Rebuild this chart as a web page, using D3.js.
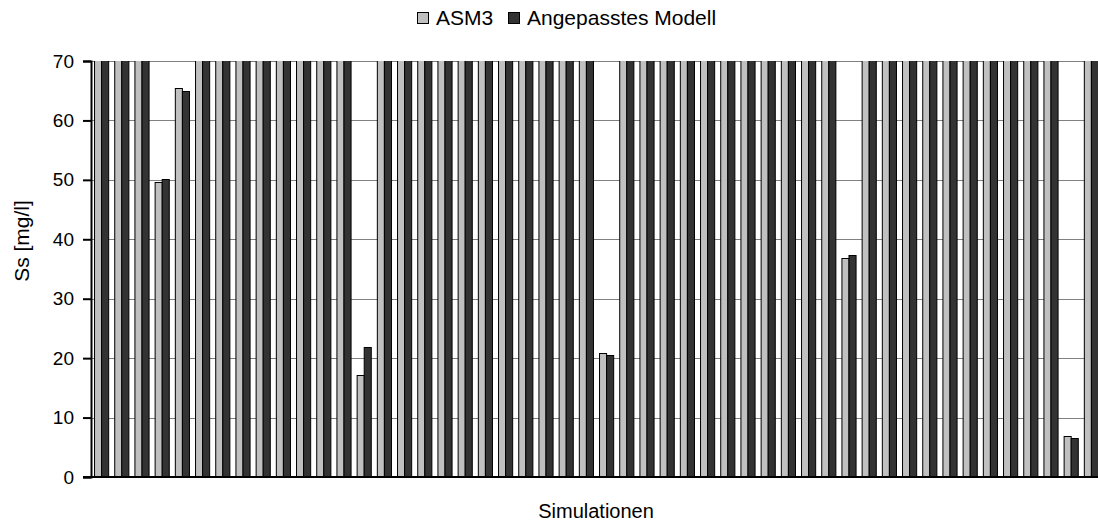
<!DOCTYPE html>
<html>
<head>
<meta charset="utf-8">
<script src="https://cdn.jsdelivr.net/npm/d3@7"></script>
<style>
  body { margin: 0; background: #fff; }
  text { font-family: "Liberation Sans", Arial, sans-serif; fill: #000; }
</style>
</head>
<body>
<svg id="chart" width="1098" height="524"></svg>
<script>
// 50 simulation runs; values above 70 run off the top of the axis
const simulations = d3.range(1, 51).map(String);
const asm3 = [
  80, 80, 80, 49.6, 65.4, 80, 80, 80, 80, 80,
  80, 80, 80, 17.2, 80, 80, 80, 80, 80, 80,
  80, 80, 80, 80, 80, 20.8, 80, 80, 80, 80,
  80, 80, 80, 80, 80, 80, 80, 36.8, 80, 80,
  80, 80, 80, 80, 80, 80, 80, 80, 6.85, 80
];
const angepasst = [
  80, 80, 80, 50.2, 65.0, 80, 80, 80, 80, 80,
  80, 80, 80, 21.8, 80, 80, 80, 80, 80, 80,
  80, 80, 80, 80, 80, 20.6, 80, 80, 80, 80,
  80, 80, 80, 80, 80, 80, 80, 37.4, 80, 80,
  80, 80, 80, 80, 80, 80, 80, 80, 6.6, 80
];
const seriesNames = ['ASM3', 'Angepasstes Modell'];
const seriesColors = ['#c0c0c0', '#333333'];
const yTicks = [0, 10, 20, 30, 40, 50, 60, 70];

const svg = d3.select('#chart');
const margin = {top: 61, left: 91, bottom: 47};
const plotRight = 1101;
const height = 524 - margin.top - margin.bottom;

const x = d3.scaleBand()
  .domain(simulations)
  .range([margin.left, plotRight])
  .paddingInner(0.3)
  .paddingOuter(0.15);

const xInner = d3.scaleBand()
  .domain(seriesNames)
  .range([0, x.bandwidth()]);

const y = d3.scaleLinear()
  .domain([0, 70])
  .range([margin.top + height, margin.top]);

svg.append('defs').append('clipPath')
  .attr('id', 'plot-clip')
  .append('rect')
  .attr('x', margin.left)
  .attr('y', margin.top)
  .attr('width', plotRight - margin.left)
  .attr('height', height);

// gridlines
svg.append('g')
  .selectAll('line')
  .data(yTicks.filter(d => d > 0))
  .enter().append('line')
  .attr('x1', margin.left)
  .attr('x2', 1098)
  .attr('y1', d => Math.round(y(d)) + 0.5)
  .attr('y2', d => Math.round(y(d)) + 0.5)
  .attr('stroke', '#808080')
  .attr('stroke-width', 1);

// bars
const rows = simulations.map((s, i) => ({sim: s, values: [asm3[i], angepasst[i]]}));
const bars = svg.append('g').attr('clip-path', 'url(#plot-clip)');
bars.selectAll('g')
  .data(rows)
  .enter().append('g')
  .attr('transform', d => 'translate(' + x(d.sim) + ',0)')
  .selectAll('rect')
  .data(d => d.values.map((v, k) => ({key: seriesNames[k], value: v, color: seriesColors[k]})))
  .enter().append('rect')
  .attr('x', d => xInner(d.key) + 0.5)
  .attr('y', d => Math.round(y(d.value)) + 0.5)
  .attr('width', xInner.bandwidth())
  .attr('height', d => y(0) - Math.round(y(d.value)))
  .attr('fill', d => d.color)
  .attr('stroke', '#000')
  .attr('stroke-width', 1);

// y axis
const yAxis = d3.axisLeft(y)
  .tickValues(yTicks)
  .tickSize(8)
  .tickPadding(9);
const yg = svg.append('g')
  .attr('transform', 'translate(' + margin.left + ',0)')
  .call(yAxis);
yg.select('.domain').attr('stroke', '#000').attr('stroke-width', 2);
yg.selectAll('.tick line').attr('stroke', '#000').attr('stroke-width', 2);
yg.selectAll('.tick text').style('font-size', '19px').style('font-family', '"Liberation Sans", Arial, sans-serif');

// x axis baseline
svg.append('line')
  .attr('x1', margin.left - 8)
  .attr('x2', 1098)
  .attr('y1', y(0))
  .attr('y2', y(0))
  .attr('stroke', '#000')
  .attr('stroke-width', 2);

// axis titles
svg.append('text')
  .attr('transform', 'translate(29,241) rotate(-90)')
  .attr('text-anchor', 'middle')
  .style('font-size', '21px')
  .text('Ss [mg/l]');

svg.append('text')
  .attr('x', 596)
  .attr('y', 518)
  .attr('text-anchor', 'middle')
  .style('font-size', '20px')
  .text('Simulationen');

// legend
const legend = svg.append('g').attr('transform', 'translate(417,12)');
const legendX = [0, 91];
seriesNames.forEach((name, i) => {
  legend.append('rect')
    .attr('x', legendX[i] + 0.5)
    .attr('y', 0.5)
    .attr('width', 11)
    .attr('height', 11)
    .attr('fill', seriesColors[i])
    .attr('stroke', '#000');
  legend.append('text')
    .attr('x', legendX[i] + 19)
    .attr('y', 12.5)
    .style('font-size', '21px')
    .text(name);
});
</script>
</body>
</html>
